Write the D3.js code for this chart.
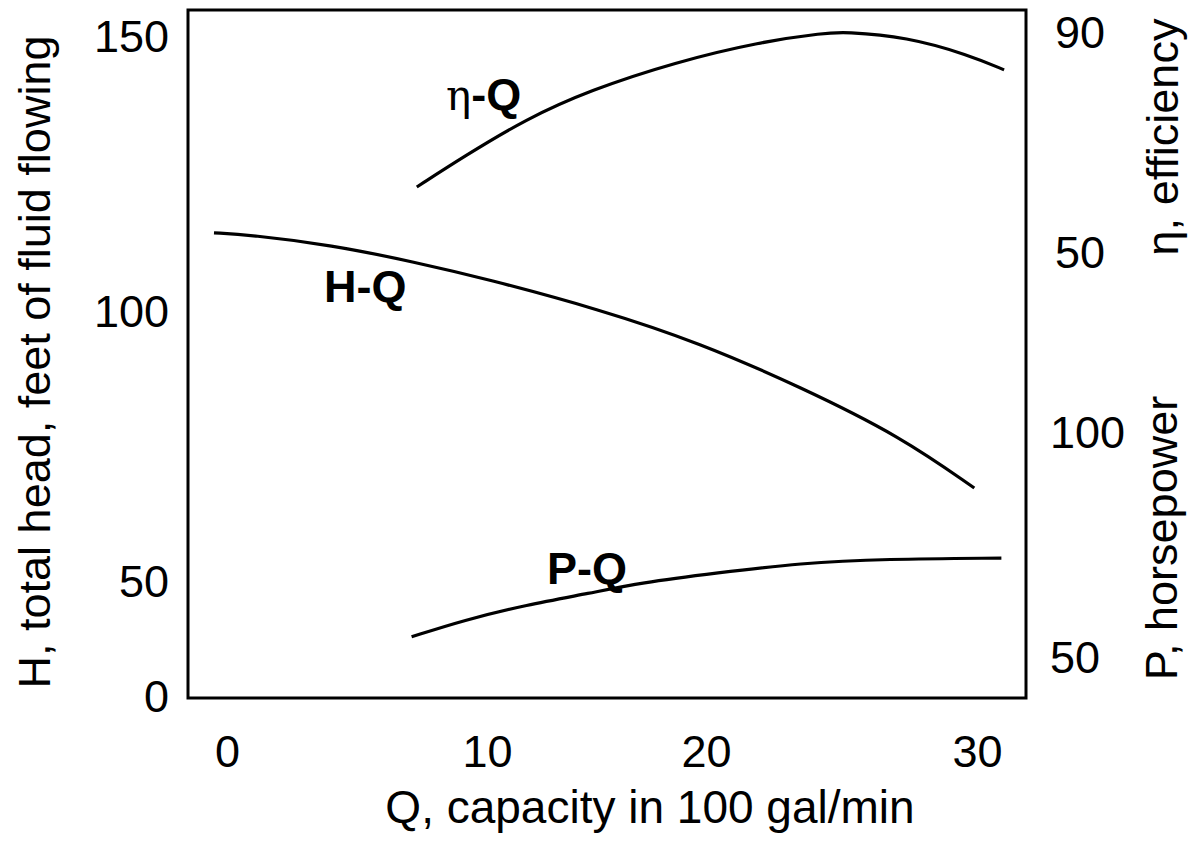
<!DOCTYPE html>
<html>
<head>
<meta charset="utf-8">
<script src="https://cdn.jsdelivr.net/npm/d3@7"></script>
<style>
  body { margin: 0; background: #fff; }
  svg { display: block; }
  text { font-family: "Liberation Sans", Arial, sans-serif; fill: #000; }
</style>
</head>
<body>
<svg id="canvas" width="1199" height="841"></svg>
<script>
// tick values on each axis
const qTicks = [0, 10, 20, 30];
const headTicks = [0, 50, 100, 150];
const effTicks = [50, 90];
const powerTicks = [50, 100];

// H-Q curve (total head, ft)
const hqCapacity = [-0.5, 0.9, 4.0, 7.2, 10.0, 15.2, 19.7, 23.5, 27.2, 29.9];
const hqHead = [114.4, 114.0, 112.2, 109.1, 106.0, 100.4, 94.3, 86.1, 76.9, 67.4];

// eta-Q curve (efficiency, %)
const eqCapacity = [7.3, 9.1, 11.8, 14.7, 18.6, 22.0, 24.4, 25.1, 27.4, 29.7, 31.0];
const eqEfficiency = [62.0, 67.5, 74.4, 79.6, 84.7, 88.4, 90.0, 90.2, 89.3, 86.0, 83.3];

// P-Q curve (horsepower)
const pqCapacity = [7.1, 9.1, 11.8, 14.7, 17.0, 20.4, 23.5, 26.6, 30.9];
const pqPower = [54.7, 58.4, 61.8, 64.4, 66.7, 68.9, 71.1, 72.0, 72.2];

const svg = d3.select("#canvas");

const box = { left: 188, right: 1026, top: 10, bottom: 698 };

// the drawing is not evenly spaced, so the scales are piecewise
const x = d3.scaleLinear().domain(qTicks).range([227, 487, 706, 977]);
const yHead = d3.scaleLinear().domain(headTicks).range([697, 582, 312, 37]);
const yEff = d3.scaleLinear().domain(effTicks).range([253, 33]);
const yPower = d3.scaleLinear().domain(powerTicks).range([658, 433]);

// frame
svg.append("rect")
  .attr("x", box.left)
  .attr("y", box.top)
  .attr("width", box.right - box.left)
  .attr("height", box.bottom - box.top)
  .attr("fill", "none")
  .attr("stroke", "#000")
  .attr("stroke-width", 3);

const styleAxis = (g) => {
  g.select(".domain").remove();
  g.selectAll("text")
    .attr("fill", "#000")
    .style("font-family", "'Liberation Sans', Arial, sans-serif")
    .style("font-size", "45px");
};

svg.append("g")
  .attr("transform", `translate(0,${box.bottom})`)
  .call(d3.axisBottom(x).tickValues(qTicks).tickSize(0).tickPadding(37))
  .call(styleAxis);

svg.append("g")
  .attr("transform", `translate(${box.left},0)`)
  .call(d3.axisLeft(yHead).tickValues(headTicks).tickSize(0).tickPadding(19))
  .call(styleAxis);

svg.append("g")
  .attr("transform", `translate(${box.right},0)`)
  .call(d3.axisRight(yEff).tickValues(effTicks).tickSize(0).tickPadding(29))
  .call(styleAxis);

svg.append("g")
  .attr("transform", `translate(${box.right},0)`)
  .call(d3.axisRight(yPower).tickValues(powerTicks).tickSize(0).tickPadding(24))
  .call(styleAxis);

// curves
const drawCurve = (qs, vs, yScale) => {
  const line = d3.line()
    .x((d) => x(d[0]))
    .y((d) => yScale(d[1]))
    .curve(d3.curveBasis);
  svg.append("path")
    .datum(d3.zip(qs, vs))
    .attr("d", line)
    .attr("fill", "none")
    .attr("stroke", "#000")
    .attr("stroke-width", 3.2);
};

drawCurve(hqCapacity, hqHead, yHead);
drawCurve(eqCapacity, eqEfficiency, yEff);
drawCurve(pqCapacity, pqPower, yPower);

// curve labels
svg.append("text")
  .attr("x", 324).attr("y", 302)
  .style("font-size", "45px").style("font-weight", "bold")
  .text("H-Q");

svg.append("text")
  .attr("x", 547).attr("y", 584)
  .style("font-size", "45px").style("font-weight", "bold")
  .text("P-Q");

const etaLabel = svg.append("text")
  .attr("x", 446).attr("y", 110)
  .style("font-size", "45px");
etaLabel.append("tspan").style("font-family", "'DejaVu Serif', serif").style("font-size", "42px").text("η");
etaLabel.append("tspan").style("font-weight", "bold").text("-Q");

// axis titles
svg.append("text")
  .attr("x", 650).attr("y", 823)
  .attr("text-anchor", "middle")
  .style("font-size", "46px")
  .text("Q, capacity in 100 gal/min");

svg.append("text")
  .attr("transform", "translate(50,362) rotate(-90)")
  .attr("text-anchor", "middle")
  .style("font-size", "45px")
  .text("H, total head, feet of fluid flowing");

svg.append("text")
  .attr("transform", "translate(1178,137) rotate(-90)")
  .attr("text-anchor", "middle")
  .style("font-size", "45px")
  .text("η, efficiency");

svg.append("text")
  .attr("transform", "translate(1177,538) rotate(-90)")
  .attr("text-anchor", "middle")
  .style("font-size", "45px")
  .text("P, horsepower");
</script>
</body>
</html>
